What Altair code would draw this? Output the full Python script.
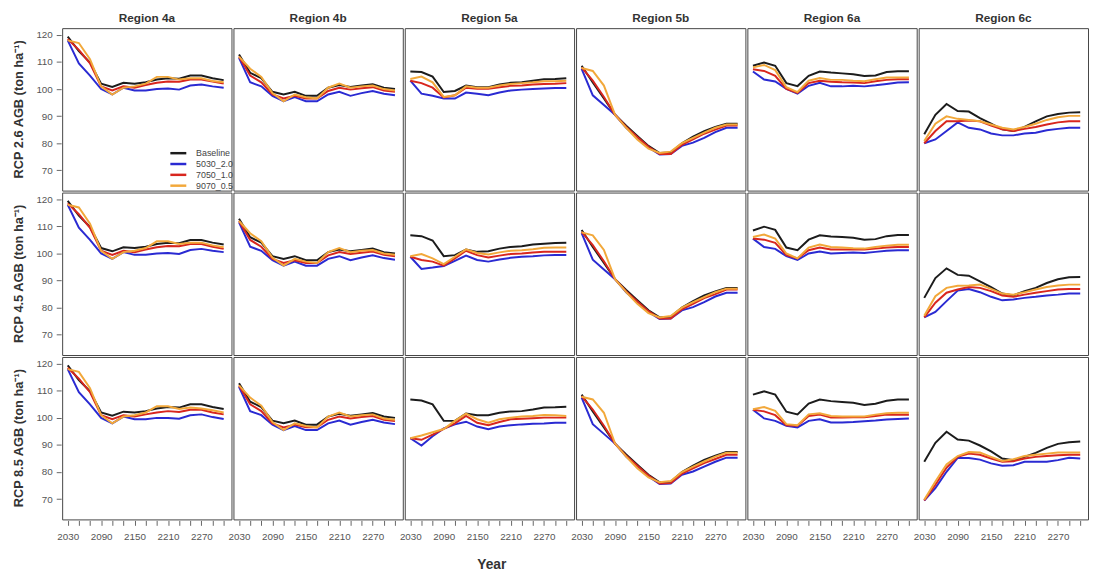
import altair as alt
import pandas as pd

years = list(range(2030, 2311, 20))
regions = ["Region 4a", "Region 4b", "Region 5a", "Region 5b", "Region 6a", "Region 6c"]
rcps = ["RCP 2.6 AGB (ton ha\u207b\u00b9)", "RCP 4.5 AGB (ton ha\u207b\u00b9)", "RCP 8.5 AGB (ton ha\u207b\u00b9)"]
scenarios = ["Baseline", "5030_2.0", "7050_1.0", "9070_0.5"]
colors = ["#1c1c1c", "#2a2ad2", "#d8261e", "#f2a83a"]
x_ticks = list(range(2030, 2311, 20))
y_ticks = [70, 80, 90, 100, 110, 120]

# ---- Region 4a ----
r4a_26 = {
    "Baseline": [119.4, 114, 109.8, 102, 100.8, 102.3, 102, 102.5, 103.5, 104, 103.8, 105, 105, 104, 103.3],
    "5030_2.0": [118, 109.5, 105, 100, 98, 100.5, 99.5, 99.5, 100, 100.2, 99.8, 101.3, 101.7, 101, 100.5],
    "7050_1.0": [118.5, 114.5, 109.5, 101, 99.5, 101, 100.5, 101.5, 102.3, 102.8, 102.7, 103.5, 103.5, 102.8, 102],
    "9070_0.5": [118, 117, 111, 101, 98, 100.5, 101, 102, 104.5, 104.5, 103.5, 104, 104, 103, 102.5],
}
r4a_45 = {
    "Baseline": [119.4, 114, 109.8, 102, 100.8, 102.3, 102, 102.5, 103.5, 104, 103.8, 105, 105, 104, 103.3],
    "5030_2.0": [118, 109.5, 105, 100, 98, 100.5, 99.5, 99.5, 100, 100.2, 99.8, 101.3, 101.7, 101, 100.5],
    "7050_1.0": [118.5, 114.5, 109.5, 101, 99.5, 101, 100.5, 101.5, 102.3, 102.8, 102.7, 103.5, 103.5, 102.5, 101.7],
    "9070_0.5": [118, 117, 111, 101, 98, 100.5, 101, 102, 104.5, 104.5, 103.5, 104, 104, 103, 102.3],
}
r4a_85 = {
    "Baseline": [119.4, 114, 109.8, 102, 100.8, 102.3, 102, 102.5, 103.5, 104, 103.8, 105, 105, 104, 103.3],
    "5030_2.0": [118, 109.5, 105, 100, 98, 100.5, 99.5, 99.5, 100, 100, 99.7, 101, 101.3, 100.3, 99.6],
    "7050_1.0": [118.5, 114.5, 109.5, 101, 99.5, 101, 100.5, 101.3, 102, 102.5, 102.2, 103, 103, 102, 101.3],
    "9070_0.5": [118, 117, 111, 101, 98, 100.5, 101, 102, 104.3, 104.3, 103.3, 103.8, 103.5, 102.8, 102],
}
# ---- Region 4b ----
r4b_26 = {
    "Baseline": [112.8, 106, 104, 99, 98, 99, 97.5, 97.5, 100.5, 101.5, 100.8, 101.3, 101.8, 100.5, 100],
    "5030_2.0": [111.5, 102.5, 101, 97.5, 95.5, 97, 95.5, 95.5, 98, 99, 97.5, 98.5, 99.3, 98.3, 97.7],
    "7050_1.0": [112, 105, 102.5, 98, 96.5, 97.5, 96.5, 96.5, 99.3, 100.5, 99.8, 100.3, 100.7, 99.5, 99],
    "9070_0.5": [112, 107.5, 104.5, 98.5, 95.5, 98, 97, 96.5, 100.5, 102, 100.5, 101, 101.3, 100, 99.5],
}
r4b_45 = {
    "Baseline": [112.8, 106, 104, 99, 98, 99, 97.5, 97.5, 100.5, 101.5, 100.8, 101.3, 101.8, 100.5, 100],
    "5030_2.0": [111.5, 102.5, 101, 97.5, 95.5, 97, 95.5, 95.5, 98, 99, 97.5, 98.5, 99.3, 98.3, 97.7],
    "7050_1.0": [112, 105, 102.5, 98, 96.5, 97.5, 96.5, 96.5, 99.3, 100.5, 99.8, 100.3, 100.7, 99.5, 99],
    "9070_0.5": [112, 107.5, 104.5, 98.5, 95.5, 98, 97, 96.5, 100.5, 102, 100.5, 101, 101.3, 100, 99.5],
}
r4b_85 = {
    "Baseline": [112.8, 106, 104, 99, 98, 99, 97.5, 97.5, 100.5, 101.5, 100.8, 101.3, 101.8, 100.5, 100],
    "5030_2.0": [111.5, 102.5, 101, 97.5, 95.5, 97, 95.5, 95.5, 98, 99, 97.5, 98.5, 99.3, 98.3, 97.7],
    "7050_1.0": [112, 105, 102.5, 98, 96.5, 97.5, 96.5, 96.5, 99.3, 100.5, 99.8, 100.3, 100.7, 99.3, 98.8],
    "9070_0.5": [112, 107.5, 104.5, 98.5, 95.5, 98, 97, 96.5, 100.5, 102, 100.5, 101, 101.3, 99.8, 99.3],
}
# ---- Region 5a ----
r5a_26 = {
    "Baseline": [106.5, 106.3, 104.6, 98.9, 99.3, 101.3, 100.7, 100.7, 101.7, 102.3, 102.5, 103.1, 103.6, 103.7, 104],
    "5030_2.0": [103.1, 98.3, 97.5, 96.5, 96.5, 98.7, 98.3, 97.7, 98.7, 99.5, 99.8, 100, 100.2, 100.4, 100.4],
    "7050_1.0": [103.1, 102.2, 100.5, 96.9, 97.7, 100.5, 100.1, 100.1, 100.7, 101.2, 101.3, 101.7, 101.9, 102, 102.2],
    "9070_0.5": [103.7, 104.6, 102.5, 97.1, 97.7, 101, 100.5, 100.5, 101.3, 101.9, 102.2, 102.5, 102.9, 102.9, 103.1],
}
r5a_45 = {
    "Baseline": [106.7, 106.4, 104.8, 99, 99.4, 101.5, 100.6, 100.8, 101.8, 102.4, 102.7, 103.3, 103.6, 103.9, 104],
    "5030_2.0": [98.8, 94.3, 94.8, 95.4, 97.3, 99.2, 97.6, 97, 97.8, 98.4, 98.8, 99, 99.3, 99.4, 99.4],
    "7050_1.0": [98.8, 97.6, 97, 95.5, 98.2, 101, 99.4, 98.5, 99.2, 99.8, 100, 100.4, 100.6, 100.6, 100.6],
    "9070_0.5": [99, 99.8, 98.2, 96.1, 98.8, 101.5, 100.2, 99.6, 100.4, 101, 101.2, 101.6, 102.1, 102.2, 102.2],
}
r5a_85 = {
    "Baseline": [106.8, 106.4, 105, 98.9, 98.9, 101.6, 101, 101, 101.9, 102.4, 102.5, 103.1, 103.8, 103.9, 104.1],
    "5030_2.0": [92.5, 89.8, 93.2, 96.1, 97.6, 98.6, 96.8, 95.8, 96.8, 97.3, 97.6, 97.8, 97.9, 98.2, 98.2],
    "7050_1.0": [92.5, 91.9, 93.8, 95.9, 98, 100.7, 98.2, 97.3, 98.5, 99.5, 99.7, 99.9, 100.1, 100.1, 100.1],
    "9070_0.5": [92.5, 93.5, 94.7, 95.9, 98.9, 101.6, 99.5, 98.2, 99.5, 100.1, 100.5, 100.7, 101.1, 101, 100.7],
}
# ---- Region 5b ----
r5b_26 = {
    "Baseline": [108.6, 102.4, 96.5, 90.5, 86.5, 82.7, 79, 76.4, 76.6, 80, 82.4, 84.5, 86, 87.2, 87.2],
    "5030_2.0": [107.5, 97.7, 94.1, 90.5, 85.7, 82, 78.4, 75.8, 76, 79, 80.2, 82, 84.1, 85.7, 85.7],
    "7050_1.0": [108, 103.1, 97.1, 90.5, 86, 82.3, 78.7, 76, 76, 79.4, 81.4, 83.5, 85, 86.5, 86.5],
    "9070_0.5": [107.8, 106.7, 101.3, 90.5, 85.7, 81.4, 78, 76.4, 76.9, 80, 82, 83.9, 85.7, 86.9, 86.9],
}
r5b_45 = {
    "Baseline": [108.7, 102.4, 96.5, 90.5, 86.5, 82.7, 79, 76.4, 76.6, 80, 82.4, 84.5, 86, 87.3, 87.3],
    "5030_2.0": [107.5, 97.7, 94.1, 90.5, 85.7, 82, 78.4, 75.8, 76, 79, 80.2, 82, 84.1, 85.5, 85.5],
    "7050_1.0": [108, 103.1, 97.1, 90.5, 86, 82.3, 78.7, 76, 76, 79.4, 81.4, 83.5, 85, 86.7, 86.7],
    "9070_0.5": [107.8, 106.7, 101.3, 90.5, 85.7, 81.4, 78, 76.4, 76.9, 80, 82, 83.9, 85.7, 87, 87],
}
r5b_85 = {
    "Baseline": [108.6, 102.4, 96.5, 90.5, 86.5, 82.7, 79, 76.2, 76.4, 80, 82.4, 84.5, 86, 87.4, 87.4],
    "5030_2.0": [107.5, 97.7, 94.1, 90.5, 85.7, 82, 78.4, 75.6, 75.8, 79, 80.2, 82, 83.8, 85.3, 85.3],
    "7050_1.0": [108, 103.1, 97.1, 90.5, 86, 82.3, 78.7, 75.8, 75.9, 79.4, 81.4, 83.3, 84.8, 86.4, 86.4],
    "9070_0.5": [107.8, 106.8, 101.9, 90.5, 85.7, 81.4, 78, 76.2, 76.7, 80, 82, 83.9, 85.7, 87.1, 87.1],
}
# ---- Region 6a ----
r6a_26 = {
    "Baseline": [108.6, 109.8, 108.6, 102.2, 101.1, 104.9, 106.5, 106.1, 105.8, 105.5, 104.8, 105, 106.3, 106.6, 106.6],
    "5030_2.0": [106.5, 103.5, 102.8, 100.1, 98.3, 101.2, 102.3, 101, 101, 101.2, 101, 101.4, 101.9, 102.4, 102.5],
    "7050_1.0": [107.3, 106.7, 104.9, 100.1, 98.6, 102.2, 103.1, 102.7, 102.5, 102.4, 102.2, 102.9, 103.4, 103.6, 103.6],
    "9070_0.5": [108, 108.9, 107, 100.7, 98.9, 103.1, 104.1, 103.4, 103.4, 103.1, 102.9, 103.6, 104.3, 104.3, 104.3],
}
r6a_45 = {
    "Baseline": [108.5, 109.9, 108.7, 102.2, 101.2, 105.1, 106.7, 106.3, 106.1, 105.8, 105.1, 105.3, 106.4, 106.8, 106.8],
    "5030_2.0": [105.5, 102.4, 101.7, 99, 97.6, 100, 100.7, 100, 100.2, 100.4, 100.2, 100.6, 101, 101.2, 101.2],
    "7050_1.0": [105.5, 105.1, 103.9, 99.4, 98.2, 101.2, 102.2, 101.5, 101.5, 101.5, 101.5, 101.8, 102.2, 102.4, 102.4],
    "9070_0.5": [106.1, 107, 105.5, 100, 98.2, 102.2, 103.3, 102.4, 102.2, 101.9, 101.8, 102.4, 102.9, 103.2, 103.2],
}
r6a_85 = {
    "Baseline": [108.6, 109.8, 108.6, 102.3, 101.3, 105.3, 106.8, 106.2, 105.9, 105.6, 104.8, 105.2, 106.3, 106.8, 106.8],
    "5030_2.0": [103, 99.8, 98.9, 97.1, 96.5, 98.9, 99.5, 98.3, 98.3, 98.5, 98.8, 99, 99.4, 99.6, 99.8],
    "7050_1.0": [103, 102.4, 101, 97.3, 97.1, 100.7, 101.2, 100.1, 100.1, 100.2, 100.2, 100.7, 101.2, 101.2, 101.2],
    "9070_0.5": [103.2, 104, 102.6, 97.7, 97.3, 101.3, 101.7, 100.7, 100.5, 100.5, 100.5, 101.2, 101.7, 101.9, 101.9],
}
# ---- Region 6c ----
r6c_26 = {
    "Baseline": [83.3, 90.5, 94.5, 91.9, 91.7, 89.3, 87.2, 85.1, 84.5, 86, 88.1, 89.9, 90.8, 91.3, 91.4],
    "5030_2.0": [80, 81.4, 84.5, 87.7, 85.7, 85.1, 83.6, 82.9, 82.9, 83.6, 83.9, 84.8, 85.3, 85.7, 85.7],
    "7050_1.0": [80, 84.5, 88.1, 88.1, 88.4, 88.1, 86.5, 85.1, 84.5, 85.3, 86, 86.9, 87.7, 88.1, 88.1],
    "9070_0.5": [80.8, 87.2, 89.9, 89, 88.6, 88.1, 86.9, 85.7, 85.1, 86, 87.2, 88.6, 89.6, 90.1, 90.1],
}
r6c_45 = {
    "Baseline": [83.6, 90.9, 94.5, 92.1, 91.8, 89.7, 87.6, 85.2, 84.5, 86.1, 87.3, 89.1, 90.5, 91.2, 91.3],
    "5030_2.0": [76.4, 78.4, 82.4, 86.3, 86.9, 85.7, 84, 82.7, 83, 83.6, 84, 84.5, 84.8, 85.2, 85.2],
    "7050_1.0": [76.4, 81.8, 85.5, 86.7, 87.6, 87.3, 86.1, 84.5, 84, 84.8, 85.5, 86.1, 86.7, 86.9, 86.9],
    "9070_0.5": [77, 84.2, 87.3, 88.1, 88.2, 88.5, 86.9, 85.2, 84.8, 85.7, 86.7, 87.6, 88.2, 88.5, 88.5],
}
r6c_85 = {
    "Baseline": [83.8, 90.8, 94.9, 92, 91.6, 89.8, 87.6, 85, 84.4, 85.6, 87.1, 88.9, 90.4, 91, 91.3],
    "5030_2.0": [69.5, 74.1, 80.1, 85.2, 85.2, 84.6, 83.2, 82.3, 82.5, 83.8, 83.8, 83.8, 84.4, 85.3, 85],
    "7050_1.0": [69.5, 75.3, 81.6, 85.6, 86.8, 86.4, 85, 83.8, 84, 85, 85.6, 85.9, 86.2, 86.4, 86.4],
    "9070_0.5": [69.8, 76.5, 82.8, 85.9, 87.4, 87.2, 85.6, 84.1, 84.7, 85.9, 86.4, 86.8, 87.2, 87.2, 87.2],
}

panels = [
    ("Region 4a", rcps[0], r4a_26), ("Region 4a", rcps[1], r4a_45), ("Region 4a", rcps[2], r4a_85),
    ("Region 4b", rcps[0], r4b_26), ("Region 4b", rcps[1], r4b_45), ("Region 4b", rcps[2], r4b_85),
    ("Region 5a", rcps[0], r5a_26), ("Region 5a", rcps[1], r5a_45), ("Region 5a", rcps[2], r5a_85),
    ("Region 5b", rcps[0], r5b_26), ("Region 5b", rcps[1], r5b_45), ("Region 5b", rcps[2], r5b_85),
    ("Region 6a", rcps[0], r6a_26), ("Region 6a", rcps[1], r6a_45), ("Region 6a", rcps[2], r6a_85),
    ("Region 6c", rcps[0], r6c_26), ("Region 6c", rcps[1], r6c_45), ("Region 6c", rcps[2], r6c_85),
]

rows = []
for region, rcp, d in panels:
    for si, s in enumerate(scenarios):
        for y, v in zip(years, d[s]):
            rows.append({"region": region, "rcp": rcp, "scenario": s, "order": si, "year": y, "agb": v})
df = pd.DataFrame(rows)

FONT = "Liberation Sans"

base = alt.Chart(df).mark_line(strokeWidth=2).encode(
    x=alt.X("year:Q",
            scale=alt.Scale(domain=[2020, 2324], nice=False, zero=False),
            axis=alt.Axis(values=x_ticks, title=None, grid=False,
                          labelExpr="(datum.value - 2030) % 60 == 0 ? datum.value : ''",
                          labelFontSize=10, labelColor="#555", tickColor="#666",
                          tickSize=5, domain=False, labelPadding=6, labelFlush=False)),
    y=alt.Y("agb:Q",
            scale=alt.Scale(domain=[62.5, 122.5], nice=False, zero=False),
            axis=alt.Axis(values=y_ticks, title=None, grid=False,
                          labelFontSize=10, labelColor="#555", tickColor="#666",
                          tickSize=5, domain=False, labelPadding=4)),
    color=alt.Color("scenario:N",
                    scale=alt.Scale(domain=scenarios, range=colors),
                    legend=alt.Legend(title=None, orient="none", legendX=112, legendY=121,
                                      symbolType="M-1.8,0L1.8,0", symbolStrokeWidth=2.5,
                                      symbolSize=81, labelFontSize=9, labelColor="#444",
                                      labelLimit=80, rowPadding=-2, symbolOffset=0,
                                      labelOffset=12)),
    detail="scenario:N",
    order=alt.Order("order:Q"),
).properties(width=172, height=165)

chart = base.facet(
    column=alt.Column("region:N", sort=regions,
                      header=alt.Header(title=None, labelFontSize=12, labelFontWeight="bold",
                                        labelColor="#333", labelPadding=2, labelFont=FONT)),
    row=alt.Row("rcp:N", sort=rcps,
                header=alt.Header(title=None, labelAngle=-90, labelOrient="left",
                                  labelFontSize=13, labelFontWeight="bold", labelColor="#333",
                                  labelPadding=4, labelFont=FONT)),
    spacing=0,
).properties(
    padding={"left": 5, "top": 0, "right": 0, "bottom": 0},
    title=alt.TitleParams("Year", orient="bottom", anchor="middle", dx=-60, offset=17,
                          fontSize=14, fontWeight="bold", color="#333", font=FONT)
).configure(
    font=FONT
).configure_view(
    stroke="#444", strokeWidth=1
)

chart.save("out.html", embed_options={"renderer": "svg", "actions": False})
